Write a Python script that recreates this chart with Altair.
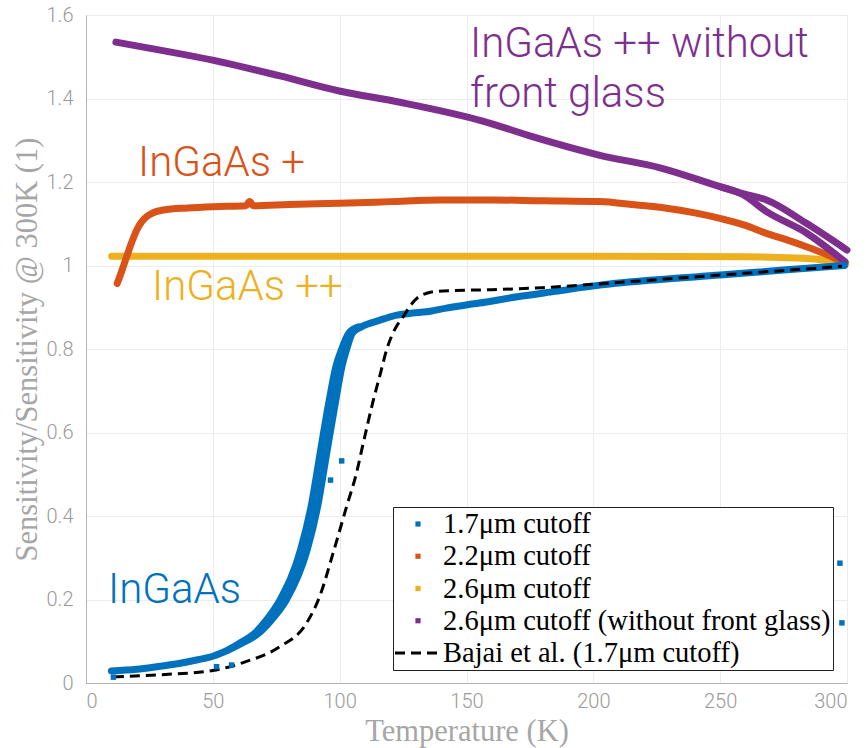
import altair as alt
import pandas as pd

# ---------------- data ----------------
# 1.7 um cutoff (InGaAs) - right branch of the hysteresis band
blue_T = [10, 20, 27.9, 36, 43.6, 50, 56.1, 62, 68, 73, 79, 87.2, 91.3, 95.1, 98.5,
          100.9, 102.7, 105, 108.5, 115.9, 122.5, 128.9, 134.3, 142, 155, 170, 185,
          202.6, 225, 250, 275, 299]
blue_v = [0.029, 0.033, 0.039, 0.046, 0.055, 0.064, 0.079, 0.097, 0.119, 0.150, 0.199,
          0.319, 0.422, 0.558, 0.678, 0.758, 0.798, 0.838, 0.853, 0.869, 0.881, 0.886,
          0.889, 0.898, 0.910, 0.925, 0.938, 0.953, 0.966, 0.977, 0.989, 1.000]
# 1.7 um cutoff - left branch (transition region only)
blue2_T = [56, 61, 66.5, 71, 76.5, 84.6, 88.7, 92.5, 95.9, 98.5, 100.7, 103.6, 107.5]
blue2_v = [0.079, 0.097, 0.119, 0.150, 0.199, 0.319, 0.422, 0.558, 0.678, 0.758, 0.798,
           0.838, 0.853]
# isolated 1.7 um points
blue_out_T = [10.8, 51.5, 57.4, 96.4, 100.8, 297.2, 298.0]
blue_out_v = [0.014, 0.039, 0.043, 0.486, 0.532, 0.287, 0.144]

# 2.2 um cutoff (InGaAs +)
orange_T = [12.3, 14, 16, 18, 20, 22, 23.9, 26, 30.5, 40, 50.2, 63, 64.5, 66, 80, 100,
            120, 139.5, 160, 180, 202.6, 215, 228.9, 240, 249.9, 260, 268.3, 276, 284,
            292, 299.2]
orange_v = [0.957, 0.985, 1.021, 1.055, 1.085, 1.105, 1.117, 1.125, 1.133, 1.138, 1.141,
            1.143, 1.153, 1.143, 1.146, 1.149, 1.153, 1.157, 1.157, 1.155, 1.153, 1.146,
            1.137, 1.126, 1.113, 1.096, 1.077, 1.062, 1.045, 1.026, 1.005]

# 2.6 um cutoff (InGaAs ++)
yellow_T = [10.1, 100, 200, 260, 280, 292, 299.5]
yellow_v = [1.022, 1.022, 1.022, 1.021, 1.018, 1.012, 1.003]

# 2.6 um cutoff without front glass
purple_T = [11.8, 29.2, 49.9, 76.5, 99.8, 123.8, 156.4, 176.3, 202.6, 226.3, 249.9,
            258.9, 268.3, 284, 300]
purple_v = [1.535, 1.516, 1.492, 1.454, 1.418, 1.391, 1.346, 1.308, 1.264, 1.234, 1.189,
            1.172, 1.157, 1.101, 1.037]
purple2_T = [249.9, 258.9, 268.3, 284, 299.2]
purple2_v = [1.189, 1.170, 1.129, 1.078, 1.009]

# Bajaj et al. (1.7 um cutoff)
bajaj_T = [11, 30, 50, 63, 76.4, 86.9, 92.1, 97.4, 102.7, 106.5, 109.5, 113.3, 116,
           118.5, 122, 125, 128, 130.5, 134, 138, 145, 160, 180, 200, 225, 250, 275, 298]
bajaj_v = [0.015, 0.020, 0.030, 0.051, 0.087, 0.143, 0.207, 0.311, 0.422, 0.500, 0.580,
           0.678, 0.740, 0.798, 0.850, 0.877, 0.905, 0.922, 0.933, 0.938, 0.940, 0.942,
           0.947, 0.955, 0.966, 0.977, 0.988, 0.998]

series_names = ["1.7μm cutoff", "2.2μm cutoff", "2.6μm cutoff",
                "2.6μm cutoff (without front glass)", "Bajai et al. (1.7μm cutoff)"]
series_colors = ["#0072BD", "#D95319", "#EDB120", "#7E2F8E", "#000000"]

# annotations
ann_text = ["InGaAs ++ without", "front glass", "InGaAs +", "InGaAs ++", "InGaAs"]
ann_T = [151.4, 151.4, 20.5, 26.0, 8.7]
ann_v = [1.499, 1.380, 1.214, 0.917, 0.192]
ann_color = ["#7E2F8E", "#7E2F8E", "#D95319", "#EDB120", "#0072BD"]

x_ticks = [0, 50, 100, 150, 200, 250, 300]
y_ticks = [0, 0.2, 0.4, 0.6, 0.8, 1, 1.2, 1.4, 1.6]

# ---------------- build tables ----------------
rows = []
def add(T, v, col, part):
    for t, val in zip(T, v):
        rows.append({"T": t, "v": val, "col": col, "part": part})

add(yellow_T, yellow_v, series_colors[2], "y")
add(orange_T, orange_v, series_colors[1], "o")
add(purple_T, purple_v, series_colors[3], "p1")
add(purple2_T, purple2_v, series_colors[3], "p2")
add(blue_T, blue_v, series_colors[0], "b1")
add(blue2_T, blue2_v, series_colors[0], "b2")
lines_df = pd.DataFrame(rows)

bajaj_df = pd.DataFrame({"T": bajaj_T, "v": bajaj_v})
out_df = pd.DataFrame({"T": blue_out_T, "v": blue_out_v})
ann_df = pd.DataFrame({"text": ann_text, "T": ann_T, "v": ann_v, "color": ann_color})
leg_df = pd.DataFrame({"series": series_names})

color_scale = alt.Scale(domain=series_names, range=series_colors)
# legend glyphs: small square marker, and a three-dash line sample
sq = "M0.36,-0.173H0.707V0.173H0.36Z"
dash = ("M-1,-0.1H-0.333V0.1H-1Z M0.067,-0.1H0.733V0.1H0.067Z "
        "M1.133,-0.1H1.8V0.1H1.133Z")
shape_scale = alt.Scale(domain=series_names, range=[sq, sq, sq, sq, dash])

x_enc = alt.X("T:Q", scale=alt.Scale(domain=[0, 300], nice=False),
              axis=alt.Axis(values=x_ticks, format="d", title="Temperature (K)",
                            titleY=57, titleBaseline="alphabetic"))
y_enc = alt.Y("v:Q", scale=alt.Scale(domain=[0, 1.6], nice=False),
              axis=alt.Axis(values=y_ticks, format="~g",
                            title="Sensitivity/Sensitivity @ 300K (1)",
                            titleX=-59, titleAngle=270, titleBaseline="middle"))

base_lines = alt.Chart(lines_df).mark_line(strokeWidth=7, interpolate="monotone",
                                           strokeCap="round", strokeJoin="round").encode(
    x=x_enc, y=y_enc,
    color=alt.Color("col:N", scale=None),
    detail="part:N",
)

outliers = alt.Chart(out_df).mark_square(size=30, color="#0072BD", opacity=1).encode(
    x="T:Q", y="v:Q")

bajaj = alt.Chart(bajaj_df).mark_line(color="black", strokeWidth=3,
                                      strokeDash=[10, 6], interpolate="monotone").encode(
    x="T:Q", y="v:Q")

leg = alt.Legend(title=None, orient="none", legendX=307, legendY=492)
legend_layer = alt.Chart(leg_df).transform_filter("false").mark_point(
    filled=True, size=900, opacity=1).encode(
    x="T:Q", y="v:Q",
    color=alt.Color("series:N", scale=color_scale, legend=leg),
    shape=alt.Shape("series:N", scale=shape_scale, legend=leg),
)

ann = alt.Chart(ann_df).mark_text(font="Roboto", fontWeight=300, fontSize=42,
                                  align="left", baseline="alphabetic").encode(
    x="T:Q", y="v:Q", text="text:N",
    color=alt.Color("color:N", scale=None),
)

chart = alt.layer(base_lines, bajaj, outliers, ann, legend_layer).properties(
    width=761, height=668,
    padding={"left": 86, "top": 15, "right": 19, "bottom": 65},
    autosize=alt.AutoSizeParams(type="none"),
).configure_view(stroke="#b3b3b3", strokeWidth=1).configure_axis(
    grid=True, gridColor="#ececec", gridWidth=1,
    domainColor="#b3b3b3", domainWidth=1, ticks=False,
    labelFont="Roboto", labelFontWeight=300, labelFontSize=20, labelColor="#9a9a9a",
    titleFont="Liberation Serif", titleFontWeight="normal", titleFontSize=30.5,
    titleColor="#a6a6a6",
).configure_axisX(labelPadding=8).configure_axisY(labelPadding=13).configure_legend(
    strokeColor="#222222", fillColor="white", padding=2, cornerRadius=0,
    labelFont="Liberation Serif", labelFontSize=28.5, labelColor="black", labelLimit=600,
    symbolSize=900, symbolStrokeWidth=0, labelOffset=18, rowPadding=2.25,
)

chart.save("out.html", embed_options={"renderer": "svg", "actions": False})
